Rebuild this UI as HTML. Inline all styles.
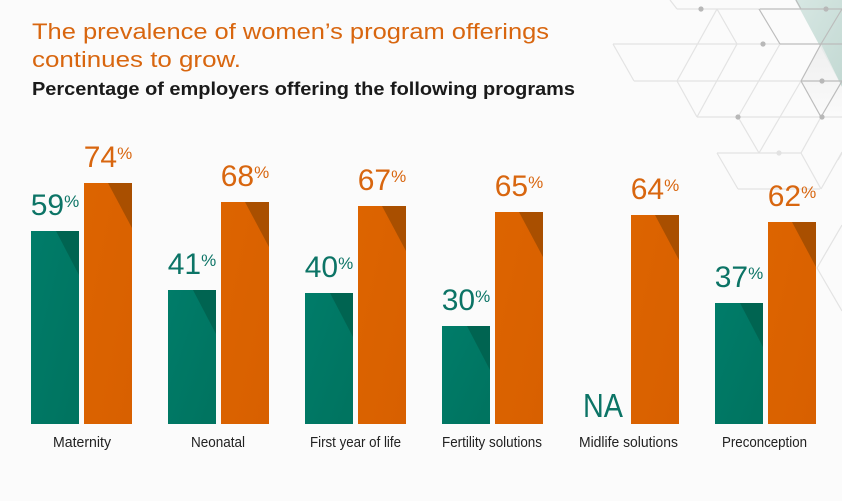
<!DOCTYPE html>
<html><head><meta charset="utf-8"><style>
html,body{margin:0;padding:0;background:#fbfbfb;}
svg{display:block;}
</style></head><body>
<svg width="842" height="501" viewBox="0 0 842 501" xmlns="http://www.w3.org/2000/svg" font-family="'Liberation Sans', sans-serif">
<defs>
<linearGradient id="gT" x1="0" y1="0" x2="1" y2="1"><stop offset="0" stop-color="#007c69"/><stop offset="1" stop-color="#00735f"/></linearGradient>
<linearGradient id="gO" x1="0" y1="0" x2="1" y2="1"><stop offset="0" stop-color="#dd6400"/><stop offset="1" stop-color="#d86000"/></linearGradient>
<linearGradient id="gTeal" x1="0" y1="0" x2="1" y2="1"><stop offset="0" stop-color="#d7e7e3"/><stop offset="1" stop-color="#c3d9d3"/></linearGradient>
<linearGradient id="gW" x1="0" y1="0" x2="0" y2="1"><stop offset="0" stop-color="#ececec"/><stop offset="1" stop-color="#fafafa"/></linearGradient>
</defs>
<rect width="842" height="501" fill="#fbfbfb"/>
<!-- background pattern -->
<polygon points="795,0 842,0 842,87" fill="url(#gTeal)"/>
<polygon points="801,81 821,44 842,87 842,117 821,117" fill="url(#gW)" opacity="0.8"/>
<g stroke="#e3e3e3" stroke-width="1.2" fill="none">
<line x1="670" y1="0" x2="677" y2="9"/>
<line x1="677" y1="9" x2="760" y2="9"/>
<line x1="717" y1="9" x2="737" y2="44"/>
<line x1="717" y1="9" x2="677" y2="81"/>
<line x1="613" y1="44" x2="780" y2="44"/>
<line x1="613" y1="44" x2="634" y2="81"/>
<line x1="634" y1="81" x2="801" y2="81"/>
<line x1="737" y1="44" x2="697" y2="117"/>
<line x1="677" y1="81" x2="697" y2="117"/>
<line x1="697" y1="117" x2="842" y2="117"/>
<line x1="780" y1="44" x2="738" y2="117"/>
<line x1="738" y1="117" x2="759" y2="153"/>
<line x1="759" y1="153" x2="801" y2="81"/>
<line x1="717" y1="153" x2="801" y2="153"/>
<line x1="717" y1="153" x2="738" y2="189"/>
<line x1="738" y1="189" x2="820" y2="189"/>
<line x1="801" y1="153" x2="821" y2="189"/>
<line x1="821" y1="189" x2="842" y2="152"/>
<line x1="821" y1="117" x2="801" y2="153"/>
<line x1="842" y1="225" x2="817" y2="268"/>
<line x1="817" y1="268" x2="842" y2="311"/>
<line x1="838" y1="160" x2="842" y2="153"/>
</g>
<g stroke="#bcbcbc" stroke-width="1.2" fill="none">
<line x1="760" y1="9" x2="842" y2="9"/>
<line x1="759" y1="9" x2="780" y2="44"/>
<line x1="780" y1="44" x2="842" y2="44"/>
<line x1="821" y1="44" x2="801" y2="81"/>
<line x1="801" y1="81" x2="842" y2="81"/>
<line x1="801" y1="81" x2="821" y2="117"/>
<line x1="821" y1="117" x2="842" y2="81"/>
<line x1="821" y1="44" x2="842" y2="9"/>
<line x1="801" y1="9" x2="796" y2="0"/>
</g>
<g fill="#b8b8b8">
<circle cx="701" cy="9" r="2.6"/>
<circle cx="826" cy="9" r="2.6"/>
<circle cx="763" cy="44" r="2.6"/>
<circle cx="822" cy="81" r="2.6"/>
<circle cx="738" cy="117" r="2.6"/>
<circle cx="822" cy="117" r="2.6"/>
<circle cx="779" cy="153" r="2.6" fill="#e2e2e2"/>
</g>
<!-- titles -->
<text x="32" y="39" font-size="22.5" fill="#d8660f" textLength="517" lengthAdjust="spacingAndGlyphs">The prevalence of women’s program offerings</text>
<text x="32" y="67" font-size="22.5" fill="#d8660f" textLength="209" lengthAdjust="spacingAndGlyphs">continues to grow.</text>
<text x="32" y="95" font-size="18" font-weight="bold" fill="#1a1a1a" textLength="543" lengthAdjust="spacingAndGlyphs">Percentage of employers offering the following programs</text>

<!-- Group 1 Maternity -->
<rect x="31" y="231" width="48" height="193" fill="url(#gT)"/>
<polygon points="56,231 79,231 79,275" fill="#006451"/>
<rect x="84" y="183" width="48" height="241" fill="url(#gO)"/>
<polygon points="108,183 132,183 132,228" fill="#a94f00"/>
<text x="55" y="215" text-anchor="middle" fill="#0c7466"><tspan font-size="30">59</tspan><tspan font-size="17" dy="-8">%</tspan></text>
<text x="108" y="167" text-anchor="middle" fill="#d8660f"><tspan font-size="30">74</tspan><tspan font-size="17" dy="-8">%</tspan></text>
<text x="82" y="447" text-anchor="middle" font-size="14.5" fill="#222" textLength="58" lengthAdjust="spacingAndGlyphs">Maternity</text>

<!-- Group 2 Neonatal -->
<rect x="168" y="290" width="48" height="134" fill="url(#gT)"/>
<polygon points="193,290 216,290 216,334" fill="#006451"/>
<rect x="221" y="202" width="48" height="222" fill="url(#gO)"/>
<polygon points="245,202 269,202 269,247" fill="#a94f00"/>
<text x="192" y="274" text-anchor="middle" fill="#0c7466"><tspan font-size="30">41</tspan><tspan font-size="17" dy="-8">%</tspan></text>
<text x="245" y="186" text-anchor="middle" fill="#d8660f"><tspan font-size="30">68</tspan><tspan font-size="17" dy="-8">%</tspan></text>
<text x="218" y="447" text-anchor="middle" font-size="14.5" fill="#222" textLength="54" lengthAdjust="spacingAndGlyphs">Neonatal</text>

<!-- Group 3 First year of life -->
<rect x="305" y="293" width="48" height="131" fill="url(#gT)"/>
<polygon points="330,293 353,293 353,337" fill="#006451"/>
<rect x="358" y="206" width="48" height="218" fill="url(#gO)"/>
<polygon points="382,206 406,206 406,251" fill="#a94f00"/>
<text x="329" y="277" text-anchor="middle" fill="#0c7466"><tspan font-size="30">40</tspan><tspan font-size="17" dy="-8">%</tspan></text>
<text x="382" y="190" text-anchor="middle" fill="#d8660f"><tspan font-size="30">67</tspan><tspan font-size="17" dy="-8">%</tspan></text>
<text x="355.5" y="447" text-anchor="middle" font-size="14.5" fill="#222" textLength="91" lengthAdjust="spacingAndGlyphs">First year of life</text>

<!-- Group 4 Fertility -->
<rect x="442" y="326" width="48" height="98" fill="url(#gT)"/>
<polygon points="467,326 490,326 490,370" fill="#006451"/>
<rect x="495" y="212" width="48" height="212" fill="url(#gO)"/>
<polygon points="519,212 543,212 543,257" fill="#a94f00"/>
<text x="466" y="310" text-anchor="middle" fill="#0c7466"><tspan font-size="30">30</tspan><tspan font-size="17" dy="-8">%</tspan></text>
<text x="519" y="196" text-anchor="middle" fill="#d8660f"><tspan font-size="30">65</tspan><tspan font-size="17" dy="-8">%</tspan></text>
<text x="492" y="447" text-anchor="middle" font-size="14.5" fill="#222" textLength="100" lengthAdjust="spacingAndGlyphs">Fertility solutions</text>

<!-- Group 5 Midlife -->
<text x="603" y="417" text-anchor="middle" font-size="33" fill="#0c7466" textLength="40" lengthAdjust="spacingAndGlyphs">NA</text>
<rect x="631" y="215" width="48" height="209" fill="url(#gO)"/>
<polygon points="655,215 679,215 679,260" fill="#a94f00"/>
<text x="655" y="199" text-anchor="middle" fill="#d8660f"><tspan font-size="30">64</tspan><tspan font-size="17" dy="-8">%</tspan></text>
<text x="628.5" y="447" text-anchor="middle" font-size="14.5" fill="#222" textLength="99" lengthAdjust="spacingAndGlyphs">Midlife solutions</text>

<!-- Group 6 Preconception -->
<rect x="715" y="303" width="48" height="121" fill="url(#gT)"/>
<polygon points="740,303 763,303 763,347" fill="#006451"/>
<rect x="768" y="222" width="48" height="202" fill="url(#gO)"/>
<polygon points="792,222 816,222 816,267" fill="#a94f00"/>
<text x="739" y="287" text-anchor="middle" fill="#0c7466"><tspan font-size="30">37</tspan><tspan font-size="17" dy="-8">%</tspan></text>
<text x="792" y="206" text-anchor="middle" fill="#d8660f"><tspan font-size="30">62</tspan><tspan font-size="17" dy="-8">%</tspan></text>
<text x="764.5" y="447" text-anchor="middle" font-size="14.5" fill="#222" textLength="85" lengthAdjust="spacingAndGlyphs">Preconception</text>
</svg>
</body></html>
